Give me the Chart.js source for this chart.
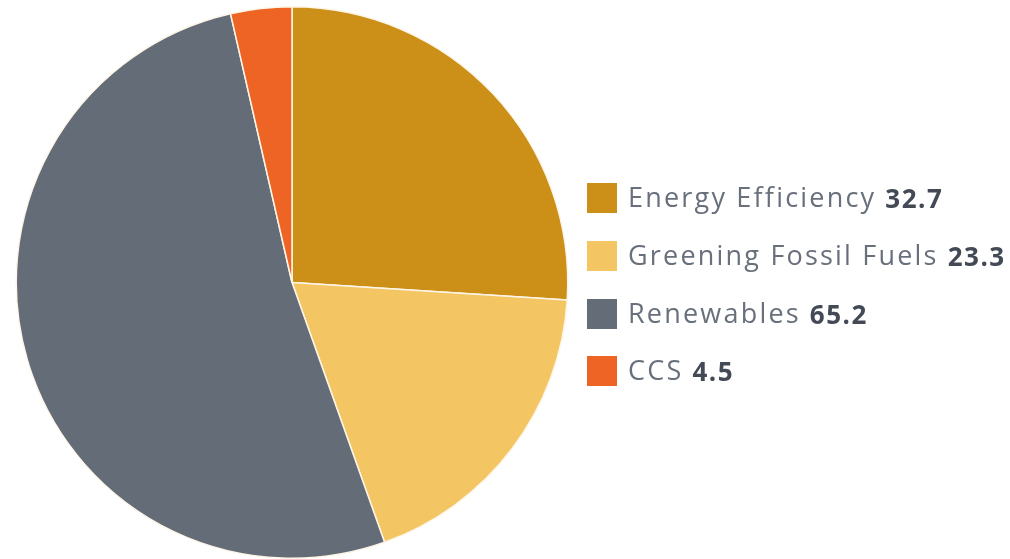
<!DOCTYPE html>
<html>
<head>
<meta charset="utf-8">
<script src="https://cdn.jsdelivr.net/npm/chart.js@4/dist/chart.umd.min.js"></script>
<style>
  html, body { margin: 0; padding: 0; background: #ffffff; }
  #wrap { width: 1010px; height: 559px; position: relative; }
</style>
</head>
<body>
<div id="wrap"><canvas id="pie" width="1010" height="559"></canvas></div>
<script>
// Investment split by area
const categories = ['Energy Efficiency', 'Greening Fossil Fuels', 'Renewables', 'CCS'];
const values = [32.7, 23.3, 65.2, 4.5];
const valueLabels = ['32.7', '23.3', '65.2', '4.5'];
const colors = ['#cc8f18', '#f4c563', '#646c77', '#ee6424'];

// Legend drawn on the right: swatch, name in light grey, value in bold
const sideLegend = {
  id: 'sideLegend',
  afterDraw(chart) {
    const ctx = chart.ctx;
    const x0 = 587, sw = 30, textX = 628;
    const rowY = [198, 256, 314, 371];
    ctx.save();
    ctx.textBaseline = 'middle';
    categories.forEach((name, i) => {
      const y = rowY[i];
      ctx.fillStyle = colors[i];
      ctx.fillRect(x0, y - sw / 2, sw, sw);
      ctx.font = '400 27px "Open Sans"';
      ctx.letterSpacing = '2.2px';
      ctx.fillStyle = '#68707c';
      ctx.fillText(name, textX, y + 1);
      const w = ctx.measureText(name).width;
      ctx.font = '700 26px "Open Sans"';
      ctx.letterSpacing = '1.5px';
      ctx.fillStyle = '#434a56';
      ctx.fillText(valueLabels[i], textX + w + 9, y + 3);
    });
    ctx.restore();
  }
};

new Chart(document.getElementById('pie'), {
  type: 'pie',
  data: {
    labels: categories,
    datasets: [{
      data: values,
      backgroundColor: colors,
      borderColor: '#fdf6e8',
      borderWidth: 1.5
    }]
  },
  options: {
    responsive: false,
    animation: false,
    layout: { padding: { left: 15, top: 6, right: 441, bottom: 0 } },
    plugins: {
      legend: { display: false },
      tooltip: { enabled: false }
    }
  },
  plugins: [sideLegend]
});
</script>
</body>
</html>
